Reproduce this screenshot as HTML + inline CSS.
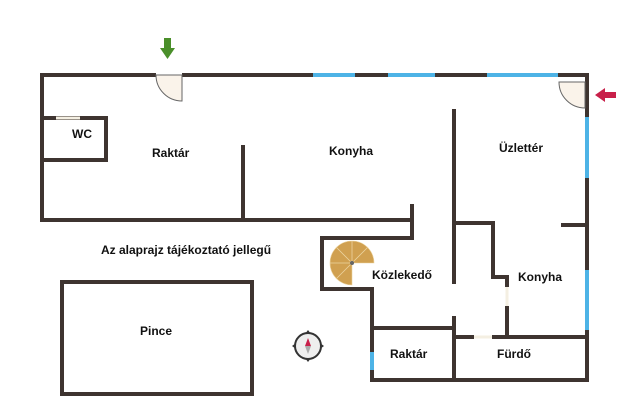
<!DOCTYPE html>
<html><head><meta charset="utf-8"><style>
html,body{margin:0;padding:0;background:#fff;}
svg{display:block}
text{font-family:"Liberation Sans",sans-serif;font-weight:bold;fill:#111;}
</style></head><body>
<svg width="640" height="419" viewBox="0 0 640 419" xmlns="http://www.w3.org/2000/svg">
<g stroke="#3e3430" stroke-width="4" stroke-linecap="square" fill="none">
<polyline points="587,75 42,75 42,220 412,220 412,206"/>
<line x1="243" y1="147" x2="243" y2="220"/>
<polyline points="42,118 106,118 106,160 42,160"/>
<polyline points="412,220 412,238 322,238 322,289 372,289 372,380 587,380 587,75"/>
<line x1="454" y1="111" x2="454" y2="282"/>
<line x1="454" y1="318" x2="454" y2="380"/>
<line x1="372" y1="328" x2="454" y2="328"/>
<line x1="454" y1="337" x2="472" y2="337"/>
<line x1="494" y1="337" x2="587" y2="337"/>
<polyline points="454,223 493,223 493,277 507,277 507,285"/>
<line x1="507" y1="308" x2="507" y2="337"/>
<line x1="563" y1="225" x2="587" y2="225"/>
<rect x="62" y="282" width="190" height="112"/>
</g>
<g stroke="#f4efe2" stroke-width="3">
<line x1="56" y1="118" x2="80" y2="118"/>
<line x1="474" y1="337" x2="492" y2="337"/>
<line x1="507" y1="287" x2="507" y2="306"/>
</g>
<g stroke="#4db3e6" stroke-width="4">
<line x1="313" y1="75" x2="355" y2="75"/>
<line x1="388" y1="75" x2="435" y2="75"/>
<line x1="487" y1="75" x2="558" y2="75"/>
<line x1="587" y1="117" x2="587" y2="178"/>
<line x1="587" y1="270" x2="587" y2="330"/>
<line x1="372" y1="352" x2="372" y2="370"/>
</g>
<rect x="156" y="73" width="26" height="4" fill="#fff"/>
<path d="M156,75 A26,26 0 0 0 182,101 L182,75 Z" fill="#faf3ea" stroke="#666" stroke-width="1"/>
<path d="M559,82 A26,26 0 0 0 585,108 L585,82 Z" fill="#faf3ea" stroke="#666" stroke-width="1"/>
<path d="M164,38 h7 v10 h4 l-7.5,11 l-7.5,-11 h4 z" fill="#4a8f2a"/>
<path d="M595,95 l10,-7 v4 h11 v6 h-11 v4 z" fill="#c8204a"/>
<path d="M352,263 L352,285 A22,22 0 1 1 374,263 Z" fill="#d0a050" stroke="#ecd4a0" stroke-width="0.6"/>
<g stroke="#ecd4a0" stroke-width="0.8">
<line x1="352" y1="263" x2="330" y2="263"/><line x1="352" y1="263" x2="352" y2="241"/>
<line x1="352" y1="263" x2="336" y2="247"/><line x1="352" y1="263" x2="336" y2="279"/>
<line x1="352" y1="263" x2="368" y2="247"/>
</g>
<circle cx="352" cy="263" r="2" fill="#666"/>
<g transform="translate(308,346)">
<circle r="13" fill="#eee" stroke="#333" stroke-width="2"/>
<path d="M0,-8 L3,0 L-3,0 Z" fill="#c8204a"/>
<path d="M0,8 L3,0 L-3,0 Z" fill="#aaa"/>
<path d="M-16,0 l4,-3 v6z M16,0 l-4,-3 v6z M0,-16 l-3,4 h6z M0,16 l-3,-4 h6z" fill="#333"/>
</g>
<text x="72" y="138" font-size="12">WC</text>
<text x="152" y="157" font-size="12">Raktár</text>
<text x="329" y="155" font-size="12">Konyha</text>
<text x="499" y="152" font-size="12">Üzlettér</text>
<text x="101" y="254" font-size="12">Az alaprajz tájékoztató jellegű</text>
<text x="372" y="279" font-size="12">Közlekedő</text>
<text x="518" y="281" font-size="12">Konyha</text>
<text x="140" y="335" font-size="12">Pince</text>
<text x="390" y="358" font-size="12">Raktár</text>
<text x="497" y="358" font-size="12">Fürdő</text>
</svg>
</body></html>
